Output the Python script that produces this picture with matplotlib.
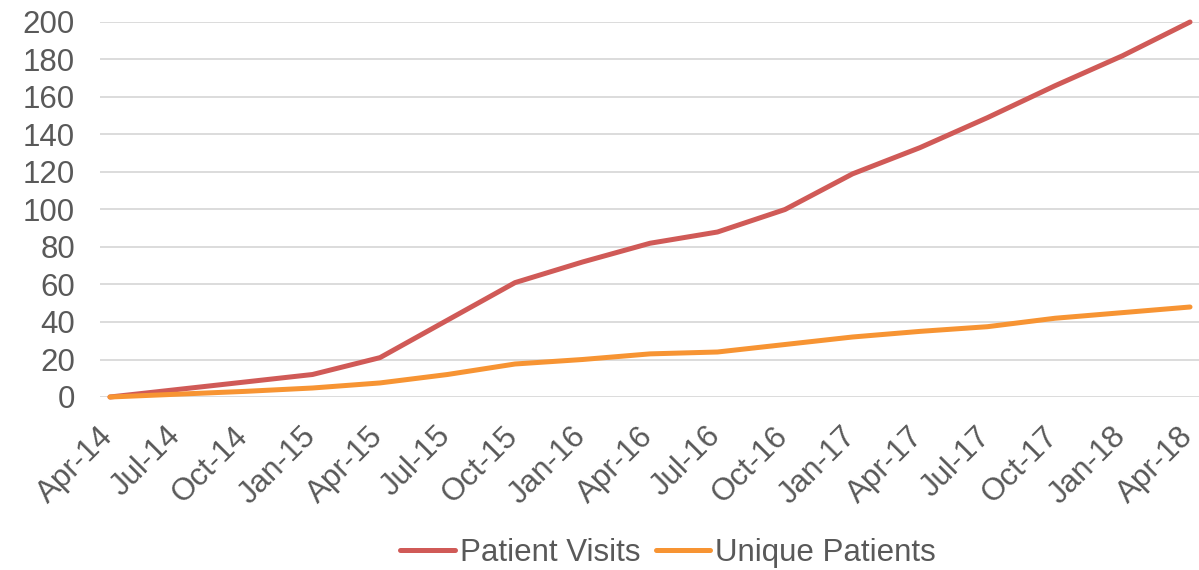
import matplotlib.pyplot as plt
import matplotlib.transforms as mtransforms

# 四半期ごとの累計データ
quarters = ['Apr-14', 'Jul-14', 'Oct-14', 'Jan-15', 'Apr-15', 'Jul-15', 'Oct-15', 'Jan-16',
            'Apr-16', 'Jul-16', 'Oct-16', 'Jan-17', 'Apr-17', 'Jul-17', 'Oct-17', 'Jan-18', 'Apr-18']
patient_visits = [0, 4, 8, 12, 21, 41, 61, 72, 82, 88, 100, 119, 133, 149, 166, 182, 200]
unique_patients = [0, 1.5, 3, 4.8, 7.5, 12, 17.6, 20, 23, 24, 28, 32, 35, 37.5, 42, 45, 48]
y_ticks = list(range(0, 201, 20))

plt.rcParams['font.family'] = ['Liberation Sans', 'DejaVu Sans']
text_color = '#595959'

fig = plt.figure(figsize=(11.99, 5.70), dpi=100)
ax = fig.add_axes([100 / 1199, 1 - 397 / 570, 1 - 100 / 1199, (397 - 22) / 570])

x = list(range(len(quarters)))
ax.plot(x, patient_visits, color='#D05A57', linewidth=3.6, label='Patient Visits',
        solid_capstyle='round', clip_on=False, zorder=3)
ax.plot(x, unique_patients, color='#F79433', linewidth=3.6, label='Unique Patients',
        solid_capstyle='round', clip_on=False, zorder=3)

ax.set_xlim(-0.148, 16.133)
ax.set_ylim(0, 200)
ax.set_yticks(y_ticks)
ax.set_xticks(x)
ax.set_xticklabels(quarters, rotation=45, ha='right', rotation_mode='anchor')

# グリッドと軸の見た目
ax.grid(True, axis='y', color='#D9D9D9', linewidth=1.3)
ax.set_axisbelow(True)
for s in ax.spines.values():
    s.set_visible(False)
ax.tick_params(axis='both', length=0, labelsize=22.5, labelcolor=text_color)
ax.tick_params(axis='y', pad=18)
ax.tick_params(axis='x', pad=8)

# x軸ラベルを少し左下へずらす
offset = mtransforms.ScaledTranslation(-0.12, -0.13, fig.dpi_scale_trans)
for lbl in ax.get_xticklabels():
    lbl.set_transform(lbl.get_transform() + offset)

fig.legend(loc='center', bbox_to_anchor=(668 / 1199, 1 - 553 / 570), ncol=2, frameon=False,
           fontsize=22.5, labelcolor=text_color, handlelength=1.75, handletextpad=0.15,
           columnspacing=0.5)

fig.savefig('out.png', dpi=100)
